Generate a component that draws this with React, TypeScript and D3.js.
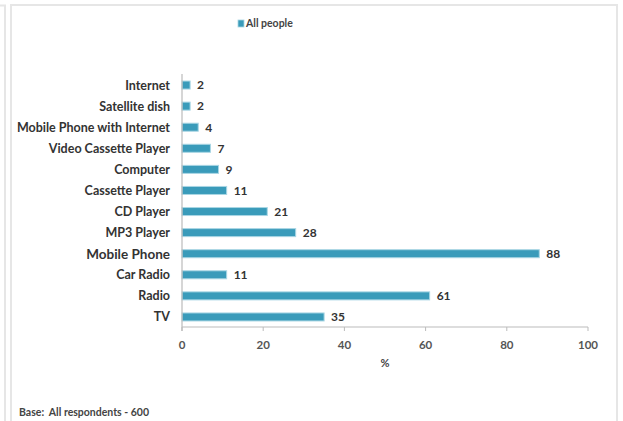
import React from "react";
import * as d3 from "d3";

const categories = [
  "Internet",
  "Satellite dish",
  "Mobile Phone with Internet",
  "Video Cassette Player",
  "Computer",
  "Cassette Player",
  "CD Player",
  "MP3 Player",
  "Mobile Phone",
  "Car Radio",
  "Radio",
  "TV",
];
const values = [2, 2, 4, 7, 9, 11, 21, 28, 88, 11, 61, 35];
const xTicks = [0, 20, 40, 60, 80, 100];
const seriesName = "All people";
const axisTitle = "%";
const footnote = "Base:  All respondents - 600";

const W = 623;
const H = 421;
const FONT = "Lato, 'Open Sans', sans-serif";
const BAR = "#3a9bba";
const BAR_EDGE = "#a9d6e4";

export default function App() {
  const x = d3.scaleLinear().domain([0, 100]).range([182, 588]);
  const y = d3.scaleBand<string>().domain(categories).range([74.5, 327.5]).paddingInner(0.62).paddingOuter(0.31);
  const y0 = 74;
  const y1 = 327;

  return (
    <svg
      width={W}
      height={H}
      style={{ position: "absolute", left: 0, top: 0, background: "#fff" }}
      fontFamily={FONT}
    >
      {/* frame */}
      <g fill="none" stroke="#e6e6e6" strokeWidth={2}>
        <path d="M0,5.5 H5 V421" />
        <path d="M11,421 V5 H617 V421" />
      </g>

      {/* legend */}
      <rect x={238} y={20} width={6} height={7} fill={BAR} stroke={BAR_EDGE} strokeWidth={0.8} />
      <text x={246} y={27} fontSize={10.5} fontWeight={700} fill="#444">
        {seriesName}
      </text>

      {/* bars */}
      {categories.map((c, i) => {
        const by = y(c)!;
        const bw = x(values[i]) - x(0);
        const big = c === "Mobile Phone";
        return (
          <g key={c}>
            <rect x={x(0)} y={by} width={bw} height={y.bandwidth()} fill={BAR} stroke={BAR_EDGE} strokeWidth={1} />
            <text
              x={x(values[i]) + 7}
              y={by + y.bandwidth() / 2}
              dy="0.36em"
              fontSize={12}
              fontWeight={700}
              fill="#333"
            >
              {values[i]}
            </text>
            <text
              x={170}
              y={by + y.bandwidth() / 2}
              dy="0.36em"
              textAnchor="end"
              fontSize={big ? 13.5 : 12.5}
              fontWeight={700}
              fill="#333"
            >
              {c}
            </text>
          </g>
        );
      })}

      {/* category axis */}
      <line x1={182} x2={182} y1={y0} y2={y1 + 4} stroke="#bbb" strokeWidth={1.2} />

      {/* value axis */}
      <line x1={182} x2={588} y1={y1} y2={y1} stroke="#bbb" strokeWidth={1.2} />
      {xTicks.map((t) => (
        <g key={t}>
          <line x1={x(t)} x2={x(t)} y1={y1} y2={y1 + 4} stroke="#bbb" strokeWidth={1} />
          <text x={x(t)} y={349} textAnchor="middle" fontSize={11.5} fontWeight={700} fill="#555">
            {t}
          </text>
        </g>
      ))}
      <text x={385} y={367} textAnchor="middle" fontSize={11} fontWeight={700} fill="#444">
        {axisTitle}
      </text>

      <text x={19} y={416} fontSize={10.5} fontWeight={700} fill="#444" style={{ whiteSpace: "pre" }}>
        {footnote}
      </text>
    </svg>
  );
}
